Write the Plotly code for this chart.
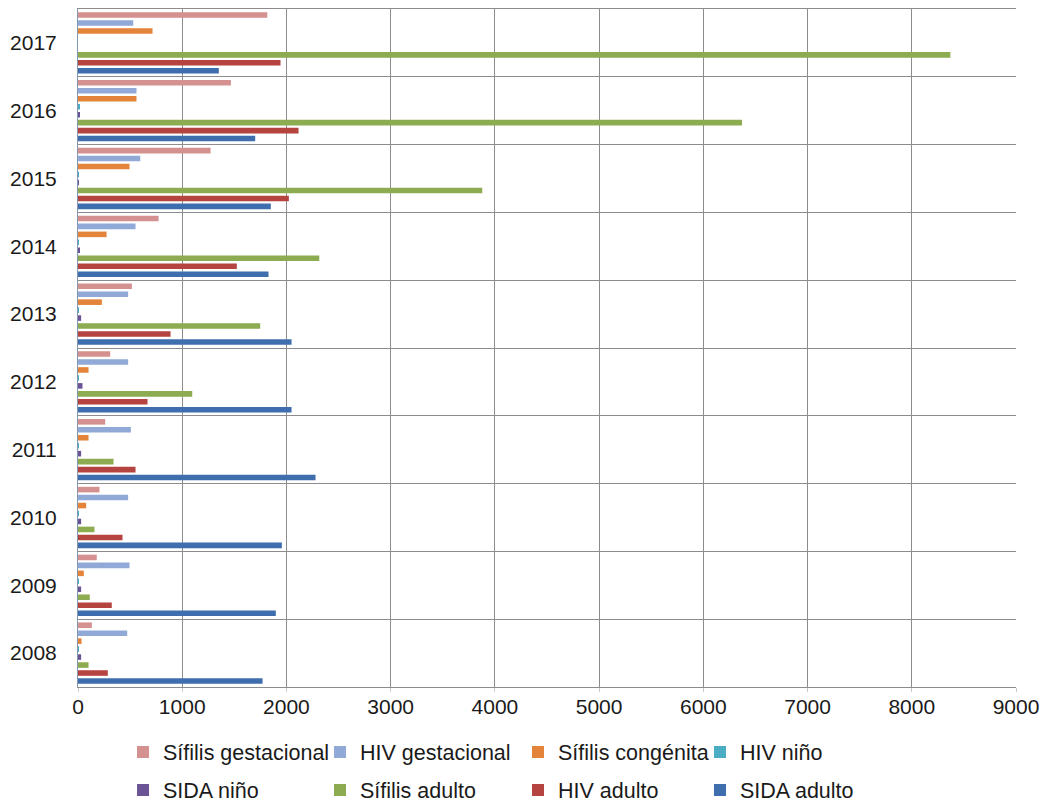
import plotly.graph_objects as go

# Años (eje vertical) y casos notificados por enfermedad
years = [2008, 2009, 2010, 2011, 2012, 2013, 2014, 2015, 2016, 2017]

sifilis_gestacional = [133, 180, 206, 261, 309, 517, 773, 1272, 1467, 1816]
hiv_gestacional = [472, 494, 481, 507, 481, 481, 552, 597, 561, 530]
sifilis_congenita = [34, 56, 78, 101, 101, 229, 274, 494, 561, 715]
hiv_nino = [5, 5, 5, 5, 5, 5, 8, 3, 12, 0]
sida_nino = [30, 30, 30, 30, 43, 30, 15, 5, 15, 0]
sifilis_adulto = [101, 113, 158, 341, 1096, 1748, 2315, 3879, 6371, 8370]
hiv_adulto = [286, 324, 427, 552, 667, 888, 1524, 2023, 2116, 1943]
sida_adulto = [1771, 1898, 1956, 2279, 2049, 2049, 1828, 1850, 1700, 1351]

x_ticks = [0, 1000, 2000, 3000, 4000, 5000, 6000, 7000, 8000, 9000]

series_names = ["Sífilis gestacional", "HIV gestacional", "Sífilis congénita", "HIV niño",
                "SIDA niño", "Sífilis adulto", "HIV adulto", "SIDA adulto"]
series_values = [sifilis_gestacional, hiv_gestacional, sifilis_congenita, hiv_nino,
                 sida_nino, sifilis_adulto, hiv_adulto, sida_adulto]
series_colors = ["#D4918F", "#91A9D6", "#E4833A", "#4BACC6",
                 "#6B5495", "#8DAB50", "#B5433F", "#3E6EAD"]

# legend grid: four columns, two rows (paper coordinates)
legend_cols = [0.048, 0.258, 0.4691, 0.6631]
legend_rows = [-0.0959, -0.1519]

FONT = "Liberation Sans, Arial, sans-serif"
GRID = "#8C8C8C"

fig = go.Figure()
# horizontal bars: the first trace sits lowest in each year group
for i in reversed(range(len(series_names))):
    key = "legend" if i == 0 else f"legend{i + 1}"
    fig.add_trace(go.Bar(
        y=years, x=series_values[i], name=series_names[i], orientation="h",
        marker=dict(color=series_colors[i], line=dict(width=0)),
        legend=key, showlegend=True,
    ))

legends = {}
for i in range(len(series_names)):
    key = "legend" if i == 0 else f"legend{i + 1}"
    legends[key] = dict(
        x=legend_cols[i % 4], y=legend_rows[i // 4],
        xanchor="left", yanchor="middle", orientation="h",
        font=dict(family=FONT, size=21.5, color="#1A1A1A"),
        bgcolor="rgba(0,0,0,0)", itemclick=False, itemdoubleclick=False,
    )

fig.update_layout(
    width=1043, height=803,
    showlegend=True,
    margin=dict(l=78, r=27, t=9, b=116, autoexpand=False),
    paper_bgcolor="white", plot_bgcolor="white",
    barmode="group", bargap=0.06, bargroupgap=0.3,
    font=dict(family=FONT, size=21, color="#1A1A1A"),
    xaxis=dict(
        range=[0, 9000], tickvals=x_ticks, ticktext=[str(v) for v in x_ticks],
        showgrid=True, gridcolor=GRID, gridwidth=1,
        showline=True, linecolor=GRID, linewidth=1, mirror=True,
        ticks="outside", ticklen=4, tickcolor="#C8C8C8",
        ticklabelstandoff=-3, zeroline=False, automargin=False,
        tickfont=dict(family=FONT, size=21, color="#1A1A1A"),
    ),
    yaxis=dict(
        range=[2007.5, 2017.5], tickvals=years, ticktext=[str(y) for y in years],
        showgrid=False, zeroline=False, automargin=False,
        showline=True, linecolor="#8497B0", linewidth=1, mirror=False,
        ticks="", ticklabelstandoff=16,
        minor=dict(tickvals=[y + 0.5 for y in years], showgrid=True,
                   gridcolor=GRID, gridwidth=1, ticks=""),
        tickfont=dict(family=FONT, size=21, color="#1A1A1A"),
    ),
    **legends,
)

fig.write_html("out.html")
